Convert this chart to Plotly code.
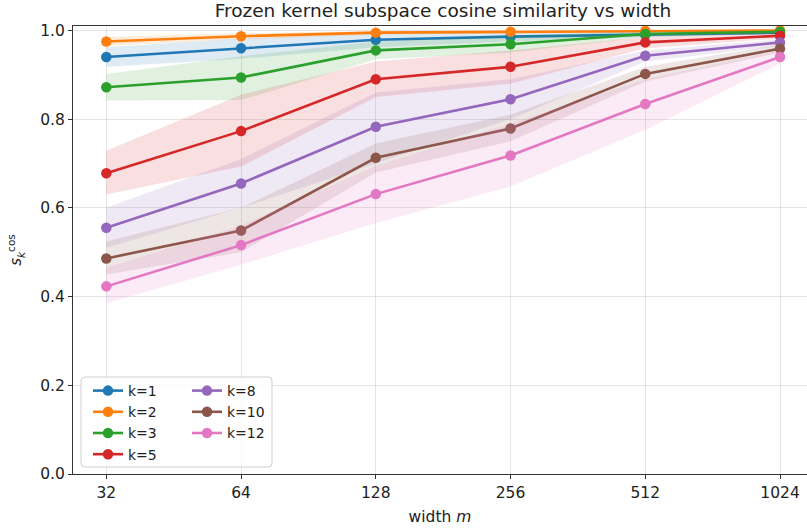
import plotly.graph_objects as go

# ---------------- data ----------------
widths = [32, 64, 128, 256, 512, 1024]
tick_labels = ["32", "64", "128", "256", "512", "1024"]
y_ticks = [0.0, 0.2, 0.4, 0.6, 0.8, 1.0]

k_labels = ["k=1", "k=2", "k=3", "k=5", "k=8", "k=10", "k=12"]

mean_k1 = [0.940, 0.960, 0.979, 0.986, 0.991, 0.995]
lo_k1 = [0.918, 0.936, 0.962, 0.975, 0.985, 0.992]
hi_k1 = [0.962, 0.982, 0.994, 0.996, 0.997, 0.998]

mean_k2 = [0.975, 0.987, 0.995, 0.997, 0.999, 1.000]
lo_k2 = [0.965, 0.980, 0.990, 0.994, 0.997, 0.998]
hi_k2 = [0.985, 0.994, 0.999, 1.000, 1.000, 1.000]

mean_k3 = [0.872, 0.894, 0.955, 0.969, 0.992, 0.997]
lo_k3 = [0.842, 0.843, 0.935, 0.950, 0.985, 0.993]
hi_k3 = [0.902, 0.942, 0.975, 0.988, 0.998, 1.000]

mean_k5 = [0.678, 0.773, 0.890, 0.918, 0.973, 0.988]
lo_k5 = [0.630, 0.693, 0.850, 0.880, 0.960, 0.982]
hi_k5 = [0.729, 0.855, 0.930, 0.955, 0.985, 0.994]

mean_k8 = [0.555, 0.655, 0.783, 0.845, 0.943, 0.973]
lo_k8 = [0.510, 0.600, 0.700, 0.800, 0.930, 0.965]
hi_k8 = [0.600, 0.710, 0.860, 0.890, 0.955, 0.980]

mean_k10 = [0.486, 0.549, 0.713, 0.779, 0.902, 0.959]
lo_k10 = [0.450, 0.500, 0.680, 0.750, 0.885, 0.950]
hi_k10 = [0.524, 0.600, 0.745, 0.810, 0.918, 0.968]

mean_k12 = [0.423, 0.516, 0.631, 0.718, 0.834, 0.940]
lo_k12 = [0.385, 0.472, 0.566, 0.648, 0.776, 0.925]
hi_k12 = [0.465, 0.560, 0.695, 0.790, 0.890, 0.955]

means = [mean_k1, mean_k2, mean_k3, mean_k5, mean_k8, mean_k10, mean_k12]
lows = [lo_k1, lo_k2, lo_k3, lo_k5, lo_k8, lo_k10, lo_k12]
highs = [hi_k1, hi_k2, hi_k3, hi_k5, hi_k8, hi_k10, hi_k12]

colors = ["#1f77b4", "#ff7f0e", "#2ca02c", "#d62728", "#9467bd", "#8c564b", "#e377c2"]

# ---------------- layout geometry ----------------
W, H = 807, 531
PL, PR, PT, PB = 73, 807, 26, 474          # plot area in pixels
ML, MR, MT, MB = PL, W - PR, PT, H - PB
PW, PH = PR - PL, PB - PT


def px_x(p):
    return (p - PL) / PW


def px_y(p):
    return (PB - p) / PH


def rgba(hex_color, a):
    h = hex_color.lstrip("#")
    r, g, b = int(h[0:2], 16), int(h[2:4], 16), int(h[4:6], 16)
    return f"rgba({r},{g},{b},{a})"


fig = go.Figure()

for i, lab in enumerate(k_labels):
    c = colors[i]
    fig.add_trace(go.Scatter(
        x=widths + widths[::-1],
        y=highs[i] + lows[i][::-1],
        fill="toself",
        fillcolor=rgba(c, 0.15),
        line=dict(width=0),
        mode="lines",
        hoverinfo="skip",
        showlegend=False,
    ))
    fig.add_trace(go.Scatter(
        x=widths,
        y=means[i],
        mode="lines+markers",
        name=lab,
        line=dict(color=c, width=2.6),
        marker=dict(color=c, size=10.5),
        legend="legend" if i < 4 else "legend2",
    ))

grid_c = "rgba(0,0,0,0.10)"
axis_c = "#333333"
font_family = "DejaVu Sans, Verdana, sans-serif"

# legend box (rounded rectangle drawn as path in paper coords)
bx0, bx1, by0, by1, rr = 81, 272, 377, 467, 4
rx = rr / PW
ry = rr / PH
x0, x1 = px_x(bx0), px_x(bx1)
y0, y1 = px_y(by1), px_y(by0)
path = (f"M {x0+rx},{y0} L {x1-rx},{y0} Q {x1},{y0} {x1},{y0+ry} "
        f"L {x1},{y1-ry} Q {x1},{y1} {x1-rx},{y1} L {x0+rx},{y1} "
        f"Q {x0},{y1} {x0},{y1-ry} L {x0},{y0+ry} Q {x0},{y0} {x0+rx},{y0} Z")

fig.update_layout(
    width=W, height=H,
    margin=dict(l=ML, r=MR, t=MT, b=MB, autoexpand=False),
    paper_bgcolor="white",
    plot_bgcolor="white",
    font=dict(family=font_family, size=14, color="#222222"),
    title=dict(
        text="Frozen kernel subspace cosine similarity vs width",
        x=px_x(443), xref="paper", xanchor="center",
        y=1 - 11 / H, yref="container", yanchor="middle",
        font=dict(size=18.5, color="#222222"),
    ),
    xaxis=dict(
        type="log",
        range=[1.4307, 3.0706],
        tickvals=widths,
        ticktext=tick_labels,
        showgrid=True, gridcolor=grid_c, gridwidth=1,
        showline=True, linecolor=axis_c, linewidth=1.2, mirror=True,
        ticks="outside", ticklen=4, tickcolor=axis_c,
        tickfont=dict(size=15.5),
        title=dict(text="width <i>m</i>", font=dict(size=15.5), standoff=10),
        zeroline=False,
        automargin=False,
    ),
    yaxis=dict(
        range=[0, 1.01],
        tickvals=y_ticks,
        ticktext=[f"{v:.1f}" for v in y_ticks],
        showgrid=True, gridcolor=grid_c, gridwidth=1,
        showline=True, linecolor=axis_c, linewidth=1.2,
        ticks="outside", ticklen=4, tickcolor=axis_c,
        tickfont=dict(size=15.5),
        title=dict(text="<i>s</i><sub><i>k</i></sub><sup>cos</sup>", font=dict(size=15), standoff=14),
        zeroline=False,
        automargin=False,
    ),
    legend=dict(
        x=px_x(88), y=px_y(375), xanchor="left", yanchor="top",
        bgcolor="rgba(0,0,0,0)", borderwidth=0,
        font=dict(size=14), tracegroupgap=0, itemwidth=30,
    ),
    legend2=dict(
        x=px_x(187), y=px_y(375), xanchor="left", yanchor="top",
        bgcolor="rgba(0,0,0,0)", borderwidth=0,
        font=dict(size=14), tracegroupgap=0, itemwidth=30,
    ),
    shapes=[dict(
        type="path", path=path, xref="paper", yref="paper",
        fillcolor="rgba(255,255,255,0.8)",
        line=dict(color="#d0d0d0", width=1),
        layer="above",
    )],
)

# remove the browser's default 8px body margin so the figure fills the window
fig.write_html(
    "out.html",
    config={"displayModeBar": False},
    post_script="document.body.style.margin='0';",
)
